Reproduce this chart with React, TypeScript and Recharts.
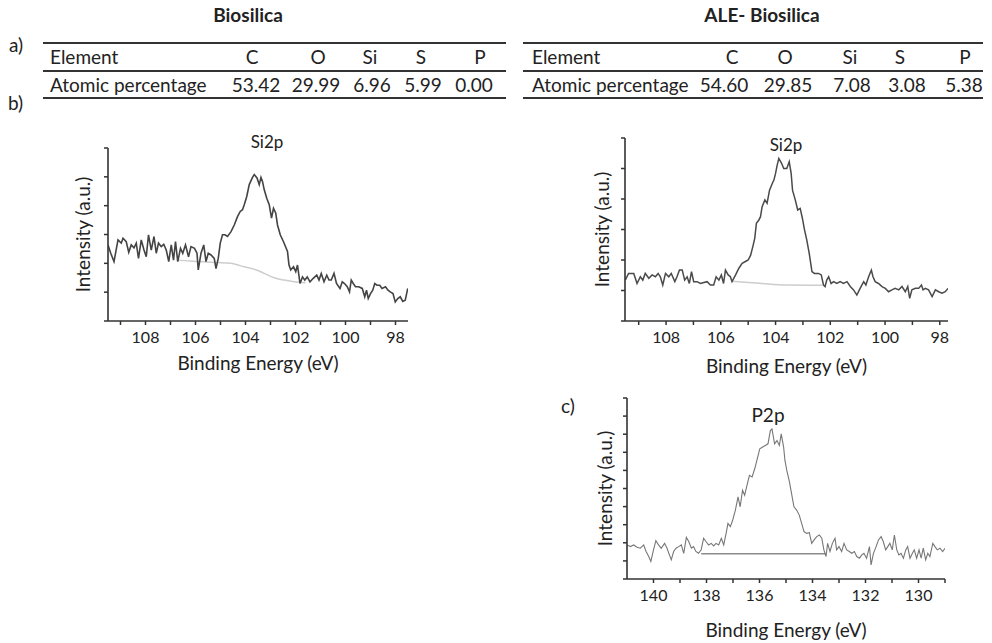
import React from 'react';
import { LineChart, Line, XAxis, YAxis } from 'recharts';

const FONT = 'Lato, "Open Sans", sans-serif';

// table data
const elementNames = ['C', 'O', 'Si', 'S', 'P'];
const bioAtomic = ['53.42', '29.99', '6.96', '5.99', '0.00'];
const aleAtomic = ['54.60', '29.85', '7.08', '3.08', '5.38'];

// b) Biosilica Si2p
const bioSiEnergy = [
	109.5, 109.39, 109.26, 109.1, 108.97, 108.9, 108.77, 108.67, 108.57, 108.46, 108.37, 108.28, 108.17, 108.06, 107.97,
	107.88, 107.77, 107.66, 107.57, 107.48, 107.37, 107.27, 107.17, 107.07, 106.97, 106.88, 106.8, 106.71, 106.6, 106.51,
	106.4, 106.28, 106.18, 106.04, 105.94, 105.89, 105.78, 105.67, 105.58, 105.49, 105.38, 105.25, 105.18, 105.09, 105.01,
	104.92, 104.82, 104.72, 104.58, 104.45, 104.32, 104.21, 104.12, 104.05, 103.95, 103.85, 103.72, 103.65, 103.54, 103.45,
	103.38, 103.32, 103.25, 103.15, 103.05, 102.96, 102.88, 102.79, 102.72, 102.61, 102.48, 102.32, 102.26, 102.19, 102.08,
	101.99, 101.92, 101.82, 101.72, 101.63, 101.53, 101.42, 101.29, 101.15, 101.06, 100.97, 100.86, 100.75, 100.66, 100.57,
	100.46, 100.36, 100.22, 100.13, 100.04, 99.93, 99.84, 99.77, 99.69, 99.6, 99.47, 99.33, 99.23, 99.16, 99.09, 99.0,
	98.91, 98.83, 98.74, 98.63, 98.54, 98.4, 98.3, 98.21, 98.1, 98.01, 97.91, 97.81, 97.71, 97.61, 97.51,
];
const bioSiIntensity = [
	2.64, 2.35, 2.06, 2.81, 2.7, 2.87, 2.75, 2.38, 2.64, 2.54, 2.7, 2.17, 2.81, 2.46, 2.23,
	2.99, 2.46, 2.93, 2.35, 2.7, 2.58, 2.66, 2.46, 2.06, 2.64, 2.11, 2.75, 2.06, 2.52, 2.35,
	2.64, 2.23, 2.58, 2.52, 2.35, 1.77, 2.35, 2.64, 2.06, 2.35, 2.29, 2.17, 1.82, 2.17, 2.7,
	2.99, 2.99, 2.93, 3.1, 3.33, 3.62, 3.8, 3.86, 4.03, 4.32, 4.73, 4.98, 5.08, 4.96, 4.73,
	4.98, 4.84, 4.55, 4.26, 4.03, 3.57, 3.91, 3.74, 3.33, 2.99, 2.75, 2.41, 1.94, 1.77, 1.88,
	1.71, 1.94, 1.3, 1.53, 1.42, 1.53, 1.36, 1.48, 1.59, 1.42, 1.65, 1.36, 1.59, 1.42, 1.42,
	1.65, 1.3, 1.13, 1.36, 1.3, 1.19, 1.01, 1.42, 1.3, 1.19, 1.19, 1.13, 0.84, 1.07, 0.78, 0.95,
	1.07, 1.3, 1.24, 1.24, 1.13, 1.19, 1.07, 1.01, 0.95, 0.66, 0.78, 0.84, 0.68, 0.72, 1.13,
];
const bioBaseEnergy = [106.75, 106.2, 105.6, 105.1, 104.6, 104.05, 103.5, 103.25, 102.85, 102.45, 102.06, 101.6];
const bioBaseIntensity = [2.12, 2.08, 2.05, 2.03, 2.0, 1.88, 1.75, 1.65, 1.5, 1.42, 1.36, 1.33];

// b) ALE-Biosilica Si2p
const aleSiEnergy = [
	109.49, 109.37, 109.18, 109.06, 108.94, 108.85, 108.76, 108.63, 108.51, 108.39, 108.29, 108.21, 108.12, 108.02, 107.9,
	107.81, 107.68, 107.6, 107.51, 107.41, 107.32, 107.23, 107.15, 107.07, 106.99, 106.87, 106.74, 106.62, 106.5, 106.38,
	106.26, 106.17, 106.07, 105.98, 105.9, 105.83, 105.73, 105.65, 105.59, 105.46, 105.34, 105.22, 105.1, 105.0, 104.91,
	104.83, 104.76, 104.7, 104.61, 104.55, 104.49, 104.39, 104.31, 104.22, 104.12, 104.06, 104.0, 103.94, 103.88, 103.78,
	103.7, 103.59, 103.5, 103.43, 103.38, 103.28, 103.19, 103.1, 103.02, 102.94, 102.86, 102.77, 102.67, 102.58, 102.43,
	102.33, 102.25, 102.19, 102.13, 102.06, 101.97, 101.88, 101.76, 101.64, 101.52, 101.39, 101.27, 101.15, 101.03, 100.91,
	100.78, 100.7, 100.6, 100.5, 100.44, 100.36, 100.24, 100.11, 99.99, 99.87, 99.75, 99.63, 99.5, 99.38, 99.26,
	99.17, 99.1, 99.02, 98.89, 98.77, 98.67, 98.61, 98.53, 98.41, 98.28, 98.16, 98.04, 97.92, 97.8, 97.7,
];
const aleSiIntensity = [
	1.34, 1.56, 1.56, 1.23, 1.45, 1.34, 1.56, 1.4, 1.51, 1.45, 1.56, 1.45, 1.18, 1.56, 1.45,
	1.56, 1.29, 1.45, 1.67, 1.67, 1.34, 1.45, 1.23, 1.62, 1.29, 1.29, 1.23, 1.26, 1.29, 1.18,
	1.18, 1.45, 1.34, 1.51, 1.23, 1.67, 1.51, 1.45, 1.29, 1.51, 1.73, 1.89, 1.95, 2.0, 2.16,
	2.44, 2.71, 3.2, 3.31, 3.42, 3.75, 3.97, 3.86, 4.29, 4.51, 4.62, 4.84, 5.11, 5.33, 5.17,
	5.0, 5.0, 5.22, 4.84, 4.29, 3.97, 3.64, 3.69, 3.37, 2.98, 2.66, 2.22, 1.62, 1.56, 1.56,
	1.51, 1.18, 1.13, 1.34, 1.45, 1.23, 1.29, 1.23, 1.29, 1.23, 1.29, 1.13, 1.02, 0.85, 1.07,
	1.29, 1.18, 1.45, 1.67, 1.45, 1.29, 1.23, 1.13, 1.07, 0.96, 1.02, 1.07, 1.02, 1.13, 0.96,
	1.13, 0.74, 1.02, 1.07, 1.07, 1.18, 1.02, 1.07, 1.02, 0.8, 1.02, 0.96, 0.91, 0.96, 1.07,
];
const aleBaseEnergy = [105.6, 104.6, 103.6, 102.3];
const aleBaseIntensity = [1.3, 1.24, 1.18, 1.17];

// c) ALE-Biosilica P2p
const aleP2pEnergy = [
	141.0, 140.87, 140.75, 140.62, 140.5, 140.37, 140.28, 140.18, 140.1, 140.0, 139.91, 139.81, 139.71, 139.58, 139.49,
	139.4, 139.33, 139.24, 139.15, 139.05, 138.95, 138.86, 138.76, 138.67, 138.57, 138.49, 138.4, 138.3, 138.2, 138.11,
	138.02, 137.92, 137.82, 137.73, 137.64, 137.54, 137.44, 137.35, 137.26, 137.19, 137.1, 137.01, 136.91, 136.81, 136.73,
	136.64, 136.56, 136.47, 136.38, 136.28, 136.18, 136.1, 135.99, 135.88, 135.78, 135.68, 135.59, 135.53, 135.43, 135.34,
	135.25, 135.18, 135.09, 135.04, 134.97, 134.87, 134.79, 134.7, 134.6, 134.5, 134.41, 134.32, 134.22, 134.12, 134.03,
	133.94, 133.84, 133.74, 133.65, 133.57, 133.49, 133.43, 133.34, 133.25, 133.15, 133.09, 133.0, 132.9, 132.81, 132.71,
	132.61, 132.52, 132.42, 132.33, 132.23, 132.14, 132.06, 131.96, 131.85, 131.79, 131.7, 131.6, 131.51, 131.41, 131.33,
	131.24, 131.16, 131.08, 130.99, 130.91, 130.82, 130.74, 130.66, 130.57, 130.48, 130.41, 130.32, 130.23, 130.16, 130.07,
	129.98, 129.9, 129.82, 129.73, 129.65, 129.57, 129.46, 129.38, 129.29, 129.19, 129.09, 129.0,
];
const aleP2pIntensity = [
	1.88, 1.79, 1.88, 1.75, 1.7, 1.88, 1.52, 1.24, 0.97, 1.61, 2.12, 1.88, 1.7, 1.97, 1.7,
	1.33, 1.06, 1.52, 1.7, 1.79, 1.88, 1.42, 2.3, 2.07, 1.7, 1.79, 1.52, 1.42, 1.61, 2.25,
	2.07, 1.88, 1.97, 1.83, 1.97, 1.88, 2.25, 1.88, 2.52, 3.07, 2.89, 3.26, 3.81, 4.54, 3.99,
	4.9, 4.63, 5.18, 5.73, 5.64, 6.09, 6.55, 7.19, 7.29, 7.38, 7.47, 8.2, 8.29, 7.47, 7.65,
	7.38, 8.02, 7.29, 6.55, 6.0, 5.36, 4.72, 3.99, 3.81, 3.53, 3.07, 2.62, 2.52, 2.56, 1.97,
	2.16, 2.34, 2.43, 2.25, 1.61, 1.24, 1.97, 1.52, 1.97, 2.25, 1.61, 1.79, 1.52, 1.97, 1.61,
	1.52, 1.42, 1.52, 1.24, 1.15, 1.33, 1.42, 1.15, 1.79, 0.78, 1.42, 1.79, 2.16, 2.34, 2.07,
	1.61, 1.79, 1.97, 1.61, 2.43, 1.61, 1.33, 1.42, 1.15, 1.61, 1.79, 1.15, 1.42, 1.61, 1.15,
	1.61, 1.15, 1.7, 1.06, 1.42, 1.24, 1.97, 1.79, 1.61, 1.7, 1.52, 1.7,
];
const p2pBaseEnergy = [138.2, 133.5];
const p2pBaseIntensity = [1.39, 1.39];

const siTicks = [98, 99, 100, 101, 102, 103, 104, 105, 106, 107, 108, 109];
const pTicks = [129, 130, 131, 132, 133, 134, 135, 136, 137, 138, 139, 140];

const toPoints = (e: number[], v: number[]) => e.map((x, i) => ({ e: x, v: v[i] }));

const Y_AXIS_W = 45;

type SpectrumProps = {
	left: number;
	top: number;
	width: number;
	height: number;
	bottom: number;
	curve: { e: number; v: number }[];
	base: { e: number; v: number }[];
	xDomain: [number, number];
	xTicks: number[];
	yMax: number;
	curveColor: string;
	curveWidth: number;
	baseColor: string;
	yLabelOffset: number;
	xLabelOffset: number;
};

const Spectrum = (p: SpectrumProps) => {
	const yTicks = Array.from({ length: p.yMax + 1 }, (_, i) => i);
	return (
		<div style={{ position: 'absolute', left: p.left, top: p.top }}>
			<LineChart width={p.width} height={p.height} margin={{ top: 13, right: 7, left: 0, bottom: p.bottom }}>
				<XAxis
					type="number"
					dataKey="e"
					domain={p.xDomain}
					reversed
					allowDataOverflow
					ticks={p.xTicks}
					interval={0}
					tickFormatter={(v: number) => (v % 2 === 0 ? String(v) : '')}
					height={30}
					tickSize={4}
					tickMargin={7}
					axisLine={{ stroke: '#333', strokeWidth: 1.6 }}
					tickLine={{ stroke: '#333', strokeWidth: 1.5 }}
					tick={{ fill: '#222', fontSize: 16, fontFamily: FONT }}
					label={{ value: 'Binding Energy (eV)', position: 'bottom', offset: p.xLabelOffset, style: { fill: '#222', fontSize: 19, fontFamily: FONT } }}
				/>
				<YAxis
					type="number"
					domain={[0, p.yMax]}
					allowDataOverflow
					ticks={yTicks}
					interval={0}
					tickFormatter={() => ''}
					width={Y_AXIS_W}
					tickSize={4}
					axisLine={{ stroke: '#333', strokeWidth: 1.6 }}
					tickLine={{ stroke: '#333', strokeWidth: 1.5 }}
					label={{ value: 'Intensity (a.u.)', angle: -90, position: 'insideLeft', offset: p.yLabelOffset, style: { textAnchor: 'middle', fill: '#222', fontSize: 19, fontFamily: FONT } }}
				/>
				<Line data={p.base} dataKey="v" type="monotone" stroke={p.baseColor} strokeWidth={1.5} dot={false} isAnimationActive={false} />
				<Line data={p.curve} dataKey="v" type="linear" stroke={p.curveColor} strokeWidth={p.curveWidth} dot={false} isAnimationActive={false} />
			</LineChart>
		</div>
	);
};

const Txt = ({ x, y, children, size = 19, center = true, bold = false }: { x: number; y: number; children: React.ReactNode; size?: number; center?: boolean; bold?: boolean }) => (
	<div
		style={{
			position: 'absolute',
			left: x,
			top: y - 12,
			lineHeight: '24px',
			fontSize: size,
			fontWeight: bold ? 700 : 400,
			whiteSpace: 'nowrap',
			transform: center ? 'translateX(-50%)' : undefined,
		}}
	>
		{children}
	</div>
);

const Rule = ({ x, y, w }: { x: number; y: number; w: number }) => (
	<div style={{ position: 'absolute', left: x, top: y - 1, width: w, height: 1.8, background: '#333' }} />
);

type TableProps = { x: number; w: number; textX: number; headX: number[]; valX: number[]; values: string[] };

const AtomicTable = ({ x, w, textX, headX, valX, values }: TableProps) => (
	<>
		<Rule x={x} y={43} w={w} />
		<Rule x={x} y={71} w={w} />
		<Rule x={x} y={98} w={w} />
		<Txt x={textX} y={57} center={false}>Element</Txt>
		<Txt x={textX} y={85} center={false}>Atomic percentage</Txt>
		{elementNames.map((el, i) => (
			<Txt key={el} x={headX[i]} y={57}>{el}</Txt>
		))}
		{values.map((val, i) => (
			<Txt key={i} x={valX[i]} y={85}>{val}</Txt>
		))}
	</>
);

export default function App() {
	return (
		<div style={{ position: 'absolute', left: 0, top: 0, width: 992, height: 643, background: '#fff', color: '#222', fontFamily: FONT, overflow: 'hidden' }}>
			<Txt x={248} y={15} bold>Biosilica</Txt>
			<Txt x={762} y={15} bold>ALE- Biosilica</Txt>
			<Txt x={9} y={45} center={false}>a)</Txt>
			<Txt x={8} y={103} center={false}>b)</Txt>
			<Txt x={561} y={406} center={false}>c)</Txt>

			<AtomicTable x={43} w={463} textX={50} headX={[252, 318, 370, 421, 480]} valX={[256, 316, 372, 423, 474]} values={bioAtomic} />
			<AtomicTable x={523} w={460} textX={532} headX={[732, 785, 850, 900, 965]} valX={[724, 788, 852, 907, 964]} values={aleAtomic} />

			<Spectrum
				left={108 - Y_AXIS_W}
				top={135}
				width={408 + 7 - (108 - Y_AXIS_W)}
				height={256}
				bottom={40}
				curve={toPoints(bioSiEnergy, bioSiIntensity)}
				base={toPoints(bioBaseEnergy, bioBaseIntensity)}
				xDomain={[97.5, 109.5]}
				xTicks={siTicks}
				yMax={6}
				curveColor="#444"
				curveWidth={1.6}
				baseColor="#cdcdcd"
				yLabelOffset={20}
				xLabelOffset={6}
			/>
			<Txt x={267} y={142} size={17}>Si2p</Txt>

			<Spectrum
				left={625 - Y_AXIS_W}
				top={125}
				width={948 + 7 - (625 - Y_AXIS_W)}
				height={266}
				bottom={40}
				curve={toPoints(aleSiEnergy, aleSiIntensity)}
				base={toPoints(aleBaseEnergy, aleBaseIntensity)}
				xDomain={[97.7, 109.5]}
				xTicks={siTicks}
				yMax={6}
				curveColor="#4a4a4a"
				curveWidth={1.5}
				baseColor="#cdcdcd"
				yLabelOffset={22}
				xLabelOffset={9}
			/>
			<Txt x={786} y={145} size={17}>Si2p</Txt>

			<Spectrum
				left={627 - Y_AXIS_W}
				top={385}
				width={945 + 7 - (627 - Y_AXIS_W)}
				height={258}
				bottom={34}
				curve={toPoints(aleP2pEnergy, aleP2pIntensity)}
				base={toPoints(p2pBaseEnergy, p2pBaseIntensity)}
				xDomain={[129, 141]}
				xTicks={pTicks}
				yMax={10}
				curveColor="#777"
				curveWidth={1.1}
				baseColor="#8c8c8c"
				yLabelOffset={23}
				xLabelOffset={15}
			/>
			<Txt x={768} y={415} size={19}>P2p</Txt>
		</div>
	);
}
